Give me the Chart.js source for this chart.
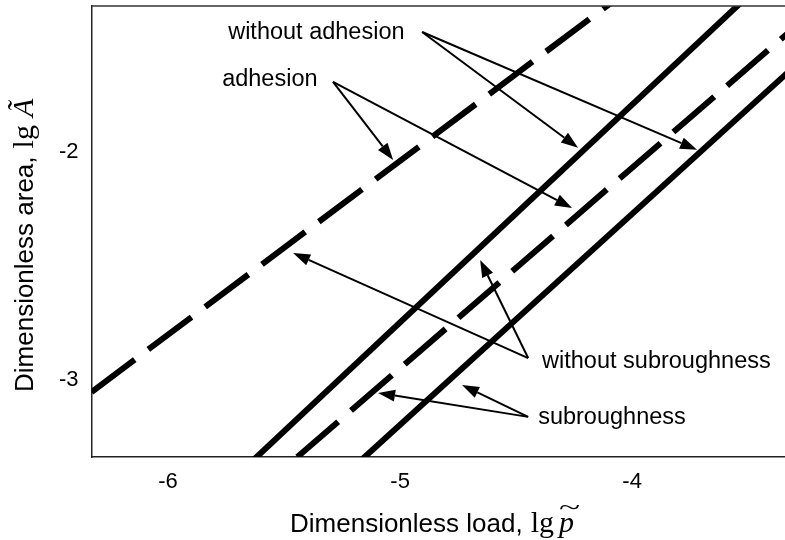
<!DOCTYPE html>
<html>
<head>
<meta charset="utf-8">
<script src="https://cdn.jsdelivr.net/npm/chart.js@4.4.0/dist/chart.umd.min.js"></script>
<style>
  html, body { margin: 0; padding: 0; background: #fff; }
</style>
</head>
<body>
<canvas id="chart" width="785" height="540"></canvas>
<script>
// Axis ticks
const xTicks = [-6, -5, -4];
const yTicks = [-3, -2];

// Lines (lg p, lg A)
const adhesionRoughX = [-6.33, -3.9];
const adhesionRoughY = [-3.053, -1.201];
const noAdhesionRoughX = [-5.70, -3.40];
const noAdhesionRoughY = [-3.416, -1.220];
const adhesionSmoothX = [-5.443, -3.1];
const adhesionSmoothY = [-3.338, -1.278];
const noAdhesionSmoothX = [-5.25, -3.2];
const noAdhesionSmoothY = [-3.428, -1.532];

// Annotations
const labelText = ['without adhesion', 'adhesion', 'without subroughness', 'subroughness'];
const labelX = [-5.741, -5.767, -4.388, -4.405];
const labelY = [-1.478, -1.684, -2.921, -3.167];
const arrowFromX = [-4.905, -5.289, -4.448, -4.448];
const arrowFromY = [-1.474, -1.693, -2.904, -3.162];
const arrowToX = [[-4.233, -3.720], [-5.030, -4.259], [-5.461, -4.655], [-5.095, -4.733]];
const arrowToY = [[-1.982, -1.991], [-2.035, -2.246], [-2.443, -2.474], [-3.057, -3.022]];

const SANS = "'Liberation Sans', Arial, sans-serif";
const SERIF = "'Liberation Serif', 'Times New Roman', serif";

function pts(xs, ys) {
    return xs.map((x, i) => ({ x: x, y: ys[i] }));
}

function lineSet(xs, ys, dashed) {
    return {
        data: pts(xs, ys),
        showLine: true,
        borderColor: '#000',
        borderWidth: 6,
        borderDash: dashed ? [54, 17] : [],
        borderCapStyle: 'butt',
        pointRadius: 0,
        clip: 0
    };
}

// "Dimensionless ..., lg X" with the math part in serif
function drawTitle(ctx, words, symbol, tilde, gap) {
    ctx.textAlign = 'left';
    ctx.textBaseline = 'alphabetic';
    ctx.font = '26px ' + SANS;
    ctx.fillText(words, 0, 0);
    let x = ctx.measureText(words).width + 8;
    ctx.font = '30px ' + SERIF;
    ctx.fillText('lg', x, 0);
    x += ctx.measureText('lg').width + gap;
    ctx.font = 'italic 30px ' + SERIF;
    ctx.fillText(symbol, x, 0);
    if (tilde) {
        const w = ctx.measureText(symbol).width;
        ctx.save();
        ctx.translate(x + w / 2 + 3, -17);
        ctx.scale(1.3, 0.75);
        ctx.font = '30px ' + SERIF;
        ctx.textAlign = 'center';
        ctx.fillText('~', 0, 0);
        ctx.restore();
    }
}

// Frame top line, arrows, labels and axis titles
const decorations = {
    id: 'decorations',
    afterDatasetsDraw(chart) {
        const ctx = chart.ctx;
        const xs = chart.scales.x, ys = chart.scales.y;
        const a = chart.chartArea;
        ctx.save();

        ctx.strokeStyle = '#333';
        ctx.lineWidth = 1.5;
        ctx.beginPath();
        ctx.moveTo(a.left, a.top);
        ctx.lineTo(a.right, a.top);
        ctx.stroke();

        ctx.strokeStyle = '#000';
        ctx.fillStyle = '#000';
        ctx.lineWidth = 2;
        for (let i = 0; i < labelText.length; i++) {
            const fx = xs.getPixelForValue(arrowFromX[i]);
            const fy = ys.getPixelForValue(arrowFromY[i]);
            for (let j = 0; j < arrowToX[i].length; j++) {
                const tx = xs.getPixelForValue(arrowToX[i][j]);
                const ty = ys.getPixelForValue(arrowToY[i][j]);
                const ang = Math.atan2(ty - fy, tx - fx);
                const len = 17, half = 6;
                const bx = tx - len * Math.cos(ang), by = ty - len * Math.sin(ang);
                ctx.beginPath();
                ctx.moveTo(fx, fy);
                ctx.lineTo(bx, by);
                ctx.stroke();
                ctx.beginPath();
                ctx.moveTo(tx, ty);
                ctx.lineTo(bx + half * Math.sin(ang), by - half * Math.cos(ang));
                ctx.lineTo(bx - half * Math.sin(ang), by + half * Math.cos(ang));
                ctx.closePath();
                ctx.fill();
            }
            ctx.font = '23.5px ' + SANS;
            ctx.textAlign = 'left';
            ctx.textBaseline = 'middle';
            ctx.fillText(labelText[i], xs.getPixelForValue(labelX[i]), ys.getPixelForValue(labelY[i]));
        }

        // x title
        ctx.save();
        ctx.translate(290, 532);
        drawTitle(ctx, 'Dimensionless load,', 'p', true, 5);
        ctx.restore();

        // y title
        ctx.save();
        ctx.translate(33, 392);
        ctx.rotate(-Math.PI / 2);
        drawTitle(ctx, 'Dimensionless area,', '\u00C3', false, 8);
        ctx.restore();

        ctx.restore();
    }
};

new Chart(document.getElementById('chart'), {
    type: 'scatter',
    data: {
        datasets: [
            lineSet(adhesionRoughX, adhesionRoughY, true),
            lineSet(noAdhesionRoughX, noAdhesionRoughY, false),
            lineSet(adhesionSmoothX, adhesionSmoothY, true),
            lineSet(noAdhesionSmoothX, noAdhesionSmoothY, false)
        ]
    },
    options: {
        responsive: false,
        animation: false,
        layout: { padding: { top: 6, right: 0, left: 0, bottom: 0 } },
        plugins: {
            legend: { display: false },
            tooltip: { enabled: false }
        },
        scales: {
            x: {
                type: 'linear',
                min: -6.33,
                max: -3.341,
                grid: { display: false, drawTicks: false },
                border: { display: true, color: '#222', width: 1.5 },
                ticks: {
                    color: '#000',
                    font: { family: SANS, size: 22 },
                    padding: 12
                },
                afterBuildTicks: (s) => { s.ticks = xTicks.map(v => ({ value: v })); },
                afterFit: (s) => { s.height = 83; s.paddingLeft = 0; s.paddingRight = 0; }
            },
            y: {
                type: 'linear',
                min: -3.338,
                max: -1.36,
                grid: { display: false, drawTicks: false },
                border: { display: true, color: '#222', width: 1.5 },
                ticks: {
                    color: '#000',
                    font: { family: SANS, size: 22 },
                    padding: 13
                },
                afterBuildTicks: (s) => { s.ticks = yTicks.map(v => ({ value: v })); },
                afterFit: (s) => { s.width = 91.5; s.paddingTop = 0; s.paddingBottom = 0; }
            }
        }
    },
    plugins: [decorations]
});
</script>
</body>
</html>
